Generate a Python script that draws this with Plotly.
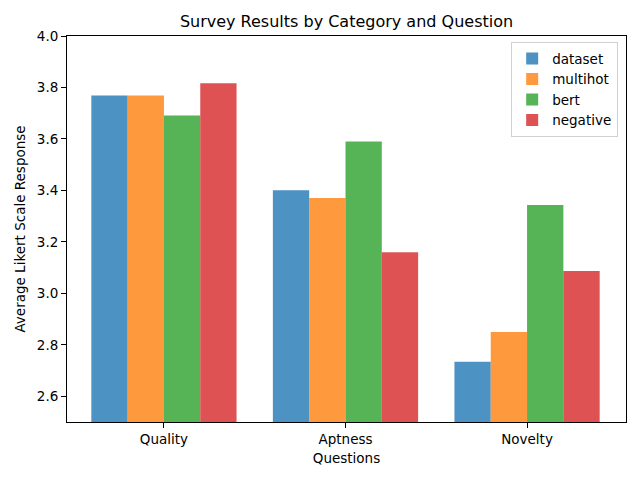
import plotly.graph_objects as go

categories = ["Quality", "Aptness", "Novelty"]
series_names = ["dataset", "multihot", "bert", "negative"]
dataset = [3.769, 3.401, 2.734]
multihot = [3.769, 3.370, 2.850]
bert = [3.691, 3.590, 3.343]
negative = [3.816, 3.160, 3.087]
values = [dataset, multihot, bert, negative]
colors = ["rgba(31,119,180,0.8)", "rgba(255,127,14,0.8)", "rgba(44,160,44,0.8)", "rgba(214,39,40,0.8)"]
yticks = [2.6, 2.8, 3.0, 3.2, 3.4, 3.6, 3.8, 4.0]

font = "DejaVu Sans"
fig = go.Figure()
for name, vals, c in zip(series_names, values, colors):
    fig.add_trace(go.Bar(x=list(range(len(categories))), y=vals, name=name,
                         marker=dict(color=c, line=dict(width=0))))

fig.update_layout(
    width=640, height=480,
    barmode="group", bargap=0.2, bargroupgap=0,
    margin=dict(l=67, r=14, t=36, b=58, autoexpand=False),
    plot_bgcolor="white", paper_bgcolor="white",
    font=dict(family=font, size=13.5, color="black"),
    title=dict(text="Survey Results by Category and Question", x=0.5, xanchor="center",
               xref="paper", y=1 - 21/480, yanchor="middle", font=dict(size=16, family=font)),
    legend=dict(x=0.986, y=0.984, xanchor="right", yanchor="top", bordercolor="#d0d0d0",
                borderwidth=1, bgcolor="rgba(255,255,255,0.8)", font=dict(size=13.5, family=font),
                itemwidth=30, tracegroupgap=1),
    xaxis=dict(range=[-0.534, 2.545], tickvals=list(range(len(categories))), ticktext=categories,
               showline=True, linecolor="black", linewidth=1, mirror=True, ticks="outside",
               ticklen=5, tickcolor="black", showgrid=False, zeroline=False, automargin=False,
               title=dict(text="Questions", font=dict(size=13.5), standoff=7)),
    yaxis=dict(range=[2.5, 4.0], tickvals=yticks, tickformat=".1f",
               showline=True, linecolor="black", linewidth=1, mirror=True, ticks="outside",
               ticklen=5, tickcolor="black", showgrid=False, zeroline=False, automargin=False,
               title=dict(text="Average Likert Scale Response", font=dict(size=13.5), standoff=8)),
)
fig.write_html("out.html", config={"displayModeBar": False},
               post_script="document.body.style.margin='0';")
